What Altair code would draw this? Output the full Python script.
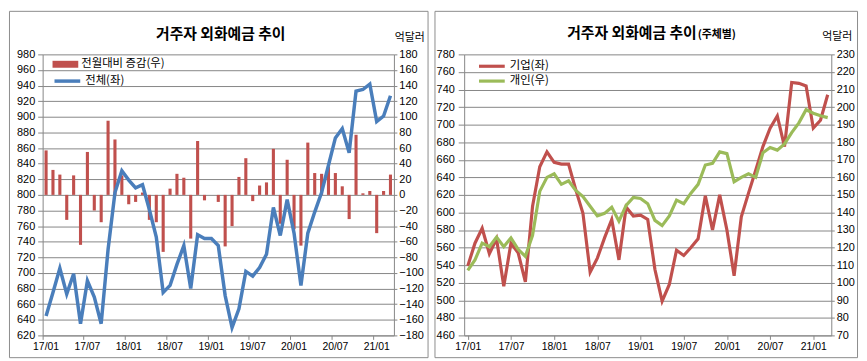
import altair as alt
import pandas as pd

# ---------------- data ----------------
months = [f"{y:02d}/{m:02d}" for y in range(17, 22) for m in range(1, 13)][:51]
tick_labels = ["17/01", "17/07", "18/01", "18/07", "19/01", "19/07", "20/01", "20/07", "21/01"]

# 전월대비 증감 (right axis, 억달러)
chg = [57, 32, 26, -32, 25, -64, 55, -20, -35, 95, 71, 25,
       -12, -9, 3, -32, -35, -73, 8, 27, 22, -56, 69, -7,
       0, -9, -66, -40, 23, 47, -8, 12, 16, 59, -37, 45,
       -44, -65, 67, 28, 27, 36, 28, 11, -31, 77, 2, 5,
       -49, 5, 26]

# 전체 (left axis)
total = [645, 675, 706, 673, 699, 635, 690, 669, 635, 730, 803, 831,
         819, 809, 813, 781, 746, 675, 684, 711, 735, 680, 749, 744,
         744, 735, 671, 630, 654, 702, 696, 707, 724, 784, 748, 794,
         751, 684, 751, 778, 803, 838, 873, 885, 854, 933, 935, 942,
         894, 901, 927]

# 기업 (left axis)
corp = [539, 565, 582, 553, 570, 516, 565, 554, 521, 607, 652, 669,
        657, 655, 655, 626, 599, 532, 548, 571, 592, 546, 606, 596,
        597, 592, 535, 499, 518, 557, 551, 560, 570, 619, 580, 620,
        580, 528, 595, 622, 648, 675, 696, 710, 675, 748, 747, 744,
        696, 705, 734]

# 개인 (right axis)
indiv = [107, 113, 122.5, 120.5, 126, 120.5, 125.5, 119, 115, 127, 152, 160,
         162, 156, 158, 152.5, 149, 143.5, 138, 139.5, 143, 135, 144, 148.5,
         148, 145, 135.5, 132.5, 138, 147, 145, 151, 156, 167, 168, 174.5,
         173.5, 157.5, 160, 162, 160, 174, 177, 175.5, 179, 185.5, 191, 198.5,
         196.5, 195, 194]

title1 = "거주자 외화예금 추이"
title2_sub = "(주체별)"
unit = "억달러"
s_bar, s_total, s_corp, s_indiv = "전월대비 증감(우)", "전체(좌)", "기업(좌)", "개인(우)"

# ---------------- style ----------------
FONT_K = "Noto Sans CJK KR"
FONT_N = "Liberation Sans"
GRID = "#868686"
FRAME = "#8c8c8c"
RED = "#C0504D"
BLUE = "#4A7EBB"
GREEN = "#9BBB59"

H, T, B = 284, 44, 23
W1, L1, R1 = 355, 34, 35
W2, L2, R2 = 371, 30, 27

dummy = pd.DataFrame({"a": [0]})


def frame(w, l, r):
    return alt.Chart(dummy).mark_rect(fill="transparent", stroke=FRAME, strokeWidth=1).encode(
        x=alt.value(-l + 0.5), x2=alt.value(w + r - 0.5),
        y=alt.value(-T + 0.5), y2=alt.value(H + B - 0.5))


def text(t, x, y, size, align="center", baseline="middle", weight="normal"):
    return alt.Chart(dummy).mark_text(text=t, font=FONT_K, fontSize=size, fontWeight=weight,
                                      align=align, baseline=baseline, color="#000").encode(
        x=alt.value(x), y=alt.value(y))


def yaxis(orient, values, grid, tick, pad):
    return alt.Axis(orient=orient, values=values, grid=grid, gridColor=GRID, gridWidth=1,
                    domainColor=GRID, tickColor=GRID, tickSize=tick, labelPadding=pad,
                    labelFont=FONT_N, labelFontSize=11, labelColor="#000", title=None)


def legend(x, y, sym, stroke_w=0):
    return alt.Legend(title=None, orient="none", legendX=x, legendY=y, symbolType=sym,
                      symbolSize=676, symbolStrokeWidth=stroke_w, labelFont=FONT_K,
                      labelFontSize=11.5, labelColor="#000", labelOffset=3, padding=0)


BAR_SYM = "M-1,-0.27H1V0.27H-1Z"

# ---------------- left panel ----------------
df1 = pd.DataFrame({"month": months, "chg": chg, "total": total,
                    "sb": s_bar, "sl": s_total})

x1 = alt.X("month:N", sort=months, scale=alt.Scale(paddingInner=0, paddingOuter=0),
           axis=alt.Axis(values=tick_labels, bandPosition=0, labelAngle=0, title=None,
                         tickSize=4, domainColor=GRID, tickColor=GRID, grid=False,
                         labelFont=FONT_N, labelFontSize=10.5, labelColor="#000",
                         labelPadding=2))

bars = alt.Chart(df1).mark_bar(width=alt.RelativeBandSize(0.45)).encode(
    x=x1,
    y=alt.Y("chg:Q", scale=alt.Scale(domain=[-180, 180], nice=False, zero=False),
            axis=yaxis("right", list(range(-180, 181, 20)), False, 3, 2)),
    color=alt.Color("sb:N", scale=alt.Scale(domain=[s_bar], range=[RED]),
                    legend=legend(10, -3, BAR_SYM)))

line_total = alt.Chart(df1).mark_line(strokeWidth=3.5).encode(
    x=x1,
    y=alt.Y("total:Q", scale=alt.Scale(domain=[620, 980], nice=False, zero=False),
            axis=yaxis("left", list(range(620, 981, 20)), True, 5, 3)),
    color=alt.Color("sl:N", scale=alt.Scale(domain=[s_total], range=[BLUE]),
                    legend=legend(10, 12, "stroke", 3.5)))

left = alt.layer(
    frame(W1, L1, R1), bars, line_total,
    text(title1, 180, -21, 15, weight="bold"),
    text(unit, 371, -17, 11),
).resolve_scale(y="independent", color="independent").properties(width=W1, height=H)

# ---------------- right panel ----------------
df2 = pd.DataFrame({"month": months, "corp": corp, "indiv": indiv,
                    "sc": s_corp, "si": s_indiv})

x2 = alt.X("month:N", sort=months, scale=alt.Scale(type="point", padding=0.5),
           axis=alt.Axis(values=tick_labels, labelAngle=0, title=None,
                         tickSize=4, domainColor=GRID, tickColor=GRID, grid=False,
                         labelFont=FONT_N, labelFontSize=10.5, labelColor="#000",
                         labelPadding=2))

line_corp = alt.Chart(df2).mark_line(strokeWidth=3.2).encode(
    x=x2,
    y=alt.Y("corp:Q", scale=alt.Scale(domain=[460, 780], nice=False, zero=False),
            axis=yaxis("left", list(range(460, 781, 20)), True, 6, 4)),
    color=alt.Color("sc:N", scale=alt.Scale(domain=[s_corp], range=[RED]),
                    legend=legend(13, -3, "stroke", 3.2)))

line_indiv = alt.Chart(df2).mark_line(strokeWidth=3.2).encode(
    x=x2,
    y=alt.Y("indiv:Q", scale=alt.Scale(domain=[70, 230], nice=False, zero=False),
            axis=yaxis("right", list(range(70, 231, 10)), False, 3, 2)),
    color=alt.Color("si:N", scale=alt.Scale(domain=[s_indiv], range=[GREEN]),
                    legend=legend(13, 12, "stroke", 3.2)))

right = alt.layer(
    frame(W2, L2, R2), line_corp, line_indiv,
    text(title1, 235, -22, 15, align="right", weight="bold"),
    text(title2_sub, 236, -20, 11, align="left", weight="bold"),
    text(unit, 377, -18, 11),
).resolve_scale(y="independent", color="independent").properties(width=W2, height=H)

chart = alt.hconcat(left, right, spacing=4).properties(
    padding={"left": 0, "top": 0, "right": 0, "bottom": 0}, background="white"
).configure_view(stroke="transparent")

chart.save("out.html", embed_options={"renderer": "svg", "actions": False})
